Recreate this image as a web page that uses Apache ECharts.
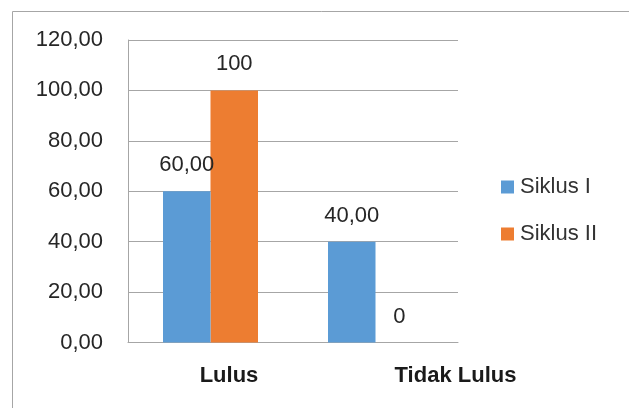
<!DOCTYPE html>
<html>
<head>
<meta charset="utf-8">
<script src="https://cdn.jsdelivr.net/npm/echarts@6/dist/echarts.min.js"></script>
<style>
html,body{margin:0;padding:0;background:#fff;}
#c{width:629px;height:408px;}
</style>
</head>
<body>
<div id="c"></div>
<script>
const categories = ['Lulus', 'Tidak Lulus'];
const siklus1 = [60, 40];
const siklus2 = [100, 0];
const seriesNames = ['Siklus I', 'Siklus II'];
const yMin = 0, yMax = 120, yInterval = 20;

const FONT = 'Liberation Sans';
const chart = echarts.init(document.getElementById('c'));
const labelPad = { 'Lulus': 37, 'Tidak Lulus': 160 };

chart.setOption({
  animation: false,
  textStyle: { fontFamily: FONT },
  graphic: [{
    type: 'rect',
    shape: { x: 12.5, y: 11.5, width: 700, height: 500 },
    style: { fill: 'none', stroke: '#a6a6a6', lineWidth: 1 },
    silent: true
  }],
  grid: { left: 128, right: 171, top: 40, bottom: 65.5 },
  legend: {
    orient: 'vertical',
    left: 501,
    top: 176,
    padding: 0,
    itemWidth: 13,
    itemHeight: 13,
    itemGap: 25,
    icon: 'rect',
    textStyle: { fontFamily: FONT, fontSize: 22, color: '#333333', lineHeight: 22, padding: [0, 0, 0, 1] },
    data: seriesNames
  },
  xAxis: {
    type: 'category',
    data: categories,
    axisLine: { show: true, lineStyle: { color: '#a6a6a6', width: 1 } },
    axisTick: { show: false },
    axisLabel: {
      margin: 22,
      interval: 0,
      formatter: function (v) { return '{p' + (v === 'Lulus' ? 'a' : 'b') + '|' + v + '}'; },
      rich: {
        pa: { fontFamily: FONT, fontSize: 22, fontWeight: 'bold', color: '#1a1a1a', padding: [0, 0, 0, labelPad['Lulus']] },
        pb: { fontFamily: FONT, fontSize: 22, fontWeight: 'bold', color: '#1a1a1a', padding: [0, 0, 0, labelPad['Tidak Lulus']] }
      }
    }
  },
  yAxis: {
    type: 'value',
    min: yMin,
    max: yMax,
    interval: yInterval,
    axisLine: { show: true, lineStyle: { color: '#a6a6a6', width: 1 } },
    axisTick: { show: false },
    splitLine: { show: true, lineStyle: { color: '#a6a6a6', width: 1 } },
    axisLabel: {
      margin: 25,
      fontFamily: FONT,
      fontSize: 22,
      color: '#262626',
      formatter: function (v) { return v.toFixed(2).replace('.', ','); }
    }
  },
  series: [
    {
      name: seriesNames[0],
      type: 'bar',
      data: siklus1,
      barWidth: 47.5,
      barGap: '0%',
      itemStyle: { color: '#5B9BD5' },
      z: 2,
      label: {
        show: true, position: 'top', distance: 15,
        fontFamily: FONT, fontSize: 22, color: '#262626',
        formatter: function (p) { return p.value.toFixed(2).replace('.', ','); }
      }
    },
    {
      name: seriesNames[1],
      type: 'bar',
      data: siklus2,
      barWidth: 47.5,
      barGap: '0%',
      itemStyle: { color: '#ED7D31' },
      z: 1,
      label: {
        show: true, position: 'top', distance: 15,
        fontFamily: FONT, fontSize: 22, color: '#262626',
        formatter: function (p) { return String(p.value); }
      }
    }
  ]
});
</script>
</body>
</html>
